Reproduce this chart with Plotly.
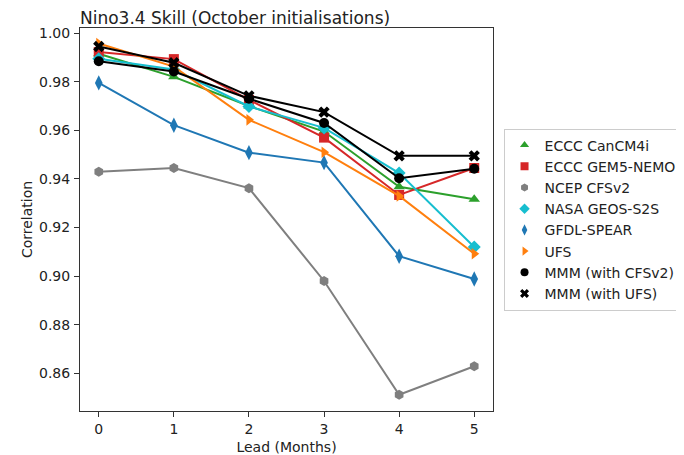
import plotly.graph_objects as go

leads = [0, 1, 2, 3, 4, 5]
x_ticks = [0, 1, 2, 3, 4, 5]
y_ticks = [0.86, 0.88, 0.90, 0.92, 0.94, 0.96, 0.98, 1.00]

names = ["ECCC CanCM4i", "ECCC GEM5-NEMO", "NCEP CFSv2", "NASA GEOS-S2S",
         "GFDL-SPEAR", "UFS", "MMM (with CFSv2)", "MMM (with UFS)"]

eccc_cancm4i = [0.9915, 0.9820, 0.9700, 0.9595, 0.9368, 0.9316]
eccc_gem5 = [0.9922, 0.9893, 0.9725, 0.9570, 0.9334, 0.9445]
ncep_cfsv2 = [0.9429, 0.9445, 0.9362, 0.8980, 0.8512, 0.8629]
nasa_geos = [0.9894, 0.9850, 0.9698, 0.9610, 0.9424, 0.9120]
gfdl_spear = [0.9795, 0.9621, 0.9508, 0.9467, 0.9082, 0.8988]
ufs = [0.9957, 0.9862, 0.9643, 0.9510, 0.9330, 0.9092]
mmm_cfsv2 = [0.9884, 0.9842, 0.9730, 0.9630, 0.9403, 0.9442]
mmm_ufs = [0.9945, 0.9878, 0.9742, 0.9675, 0.9495, 0.9495]

series = [eccc_cancm4i, eccc_gem5, ncep_cfsv2, nasa_geos, gfdl_spear, ufs, mmm_cfsv2, mmm_ufs]
colors = ["#2ca02c", "#d62728", "#7f7f7f", "#17becf", "#1f77b4", "#ff7f0e", "#000000", "#000000"]
symbols = ["triangle-up", "square", "hexagon", "diamond", "diamond-tall",
           "triangle-right", "circle", "x"]
sizes = [10, 10, 10, 10, 11, 10, 10, 10]

fig = go.Figure()
for name, vals, c, s, sz in zip(names, series, colors, symbols, sizes):
    fig.add_trace(go.Scatter(
        x=leads, y=vals, mode="lines+markers", name=name, showlegend=False,
        line=dict(color=c, width=2),
        marker=dict(color=c, symbol=s, size=sz, line=dict(width=0)),
    ))
for name, c, s in zip(names, colors, symbols):
    fig.add_trace(go.Scatter(
        x=[None], y=[None], mode="markers", name=name,
        marker=dict(color=c, symbol=s, size=8, line=dict(width=0)),
    ))

axis_common = dict(
    showline=True, linecolor="#333333", linewidth=1, mirror=True,
    ticks="outside", ticklen=5, tickcolor="#333333", showgrid=False,
    zeroline=False, tickfont=dict(size=14, color="#222222"), automargin=False,
)
fig.update_xaxes(range=[-0.25, 5.25], tickvals=x_ticks,
                 title=dict(text="Lead (Months)", font=dict(size=14, color="#222222"), standoff=7),
                 **axis_common)
fig.update_yaxes(range=[0.8445, 1.0021], tickvals=y_ticks, tickformat=".2f",
                 ticklabelstandoff=1,
                 title=dict(text="Correlation", font=dict(size=14, color="#222222"), standoff=3),
                 **axis_common)

W, H = 676, 447
fig.update_layout(
    width=W, height=H,
    margin=dict(l=72, r=191, t=20, b=44, autoexpand=False),
    paper_bgcolor="white", plot_bgcolor="white",
    font=dict(family="DejaVu Sans", size=14, color="#222222"),
    title=dict(text="Nino3.4 Skill (October initialisations)", x=72/W, xanchor="left",
               y=1 - 10/H, yanchor="middle", font=dict(size=17, color="#222222")),
    legend=dict(x=1.0255, xanchor="left", y=0.5, yanchor="middle",
                bordercolor="#cccccc", borderwidth=1, bgcolor="white",
                font=dict(size=14, color="#222222")),
)

fig.write_html("out.html")
